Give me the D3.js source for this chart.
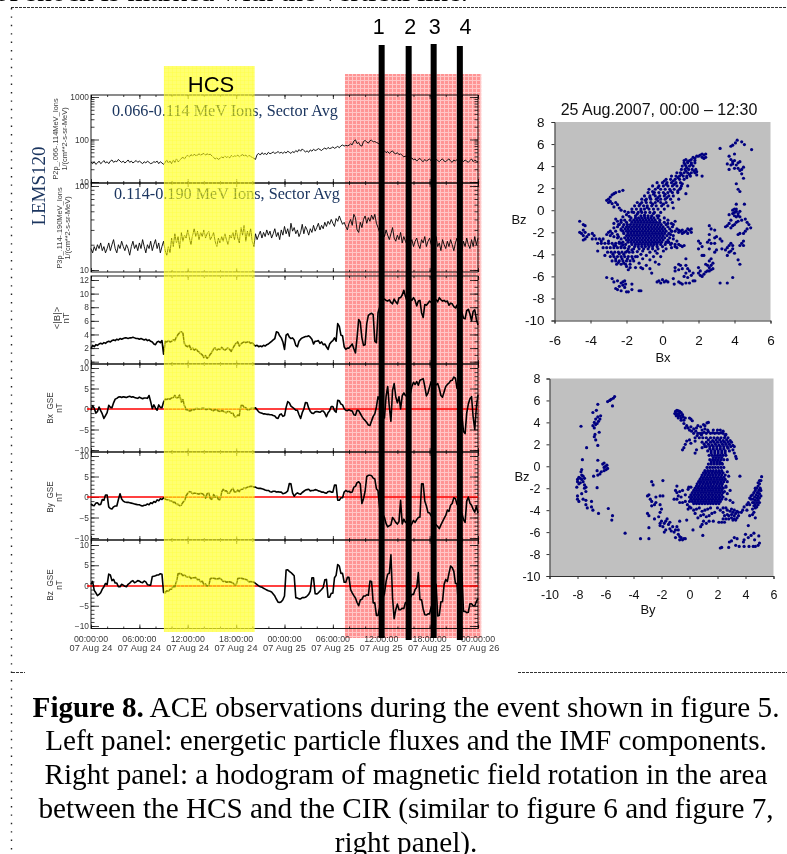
<!DOCTYPE html>
<html><head><meta charset="utf-8">
<style>html,body{margin:0;padding:0;background:#fff}svg{display:block}</style>
<script src="https://cdnjs.cloudflare.com/ajax/libs/d3/7.8.5/d3.min.js"></script>
</head><body><svg id="c" width="787" height="854"></svg>
<script>
// time series: one value every 0.2 h, 00:00 on 24 Aug to 00:00 on 26 Aug
const fluxLow=[29,27,30,26,28,31,27,29,32,28,
30,27,31,33,29,31,30,34,31,29,
31,28,30,33,29,31,28,30,32,29,
31,29,27,30,28,31,29,27,28,30,
29,31,27,30,28,26,29,33,28,31,
27,33,29,35,30,32,36,38,35,40,
42,39,44,41,45,42,43,46,43,45,
47,43,46,44,45,41,38,35,37,34,
36,39,37,41,38,40,37,42,39,41,
40,43,39,42,44,41,43,39,42,40,
38,36,34,44,47,43,49,45,47,44,
50,46,48,51,47,49,52,48,50,47,
51,48,53,50,47,52,49,55,51,58,
53,60,55,51,54,50,57,53,59,55,
57,61,58,55,60,63,59,65,61,63,
67,62,65,69,64,71,74,70,73,71,
73,79,75,92,98,80,85,72,70,90,
95,88,82,94,96,88,90,85,82,76,
52,50,54,49,52,47,51,54,48,46,
49,44,46,42,39,41,36,38,35,37,
33,35,31,34,36,32,30,34,31,33,
35,31,33,29,34,32,30,33,35,31,
30,33,35,31,29,33,31,34,30,32,
34,30,33,31,29,32,35,30,33,31,30];
const fluxHigh=[18,16,19,17,20,18,21,17,19,16,
18,21,17,20,23,18,16,20,18,22,
19,17,20,18,15,19,22,18,20,17,
21,18,23,19,16,20,18,22,17,20,
23,18,21,16,19,22,17,15,19,16,
24,19,27,21,25,18,28,22,26,24,
30,24,20,26,31,25,29,23,28,25,
30,24,27,29,23,25,28,22,19,24,
21,25,22,27,23,20,26,24,28,23,
30,24,21,32,26,34,22,29,25,31,
22,19,27,23,26,29,24,28,25,30,
26,29,24,27,31,25,28,23,30,26,
33,27,31,25,36,29,32,27,30,25,
28,35,27,33,30,26,31,28,34,29,
32,36,30,34,31,37,33,38,35,40,
36,33,41,38,44,39,35,37,33,30,
36,40,34,46,42,30,28,37,32,40,
44,36,42,38,45,40,46,36,32,28,
24,28,25,30,26,23,27,32,24,22,
26,23,28,21,25,22,20,24,21,23,
19,22,24,20,18,23,21,25,19,22,
24,20,18,22,25,19,21,17,23,20,
18,22,19,23,20,17,21,24,18,20,
17,22,19,24,20,18,23,19,25,20,24];
const bMag=[1.9,2.4,2.2,2.5,2.4,2.6,2.7,2.6,2.8,2.7,
2.9,3.0,2.9,3.1,3.2,3.1,3.3,3.2,3.4,3.3,
3.4,3.5,3.5,3.4,3.5,3.5,3.6,3.5,3.4,3.4,
3.3,3.4,3.3,3.2,3.3,3.1,3.2,3.0,2.9,2.6,
2.5,2.9,3.0,2.8,3.1,1.1,3.0,2.9,3.1,2.9,
3.0,3.2,3.1,3.6,4.0,4.3,4.4,4.2,2.6,2.3,
2.2,2.4,1.8,2.0,1.7,1.9,1.6,1.4,1.2,1.0,
0.6,0.9,0.5,0.7,1.1,1.4,1.9,2.0,1.7,1.9,
1.8,2.1,1.9,1.7,1.9,2.0,1.8,1.5,2.0,2.4,
2.7,2.9,2.3,2.6,2.8,2.9,2.8,2.9,2.9,2.7,
2.8,2.5,2.3,2.4,2.2,2.3,2.2,2.4,2.3,2.5,
2.6,2.8,3.0,3.2,3.4,4.4,4.3,3.8,3.5,2.9,
1.8,3.9,4.1,3.6,3.4,3.5,3.2,2.4,2.2,3.0,
3.3,3.5,3.6,3.7,3.7,3.8,3.6,3.3,2.6,3.0,
3.0,3.1,2.7,2.9,2.5,2.6,2.2,1.8,2.6,2.9,
3.1,3.5,3.0,5.6,5.2,3.9,3.8,2.2,1.8,2.0,
2.0,2.3,2.6,1.9,1.3,3.5,6.2,5.8,3.5,2.4,
2.5,5.6,6.8,7.0,7.1,6.9,3.0,2.8,7.2,8.0,
9.3,9.1,9.2,9.0,8.9,9.1,8.7,8.5,9.2,8.8,
8.5,9.4,9.4,9.8,10.5,9.6,8.9,9.3,9.3,9.0,
9.4,9.0,8.2,8.9,9.0,7.2,6.5,8.4,8.3,8.6,
8.9,8.7,8.8,9.0,9.1,8.8,9.4,9.1,8.9,9.0,
8.8,8.9,8.3,8.6,8.5,8.1,7.9,8.3,6.6,7.7,
7.2,6.4,6.3,7.5,7.7,7.0,6.0,7.4,7.6,6.2,5.4];
const bxGse=[-0.3,0.8,0.2,-1.0,-0.6,0.5,-0.4,-1.2,-2.3,-1.6,
-0.9,0.9,0.4,0.3,1.5,2.4,2.6,2.9,3.0,2.8,
3.0,2.9,2.8,3.0,3.1,2.9,3.0,2.8,2.7,2.6,
2.9,2.7,2.5,2.7,2.7,2.6,3.3,1.8,0.1,1.0,
0.2,-0.3,1.0,0.4,0.3,1.7,2.4,2.3,2.5,2.4,
2.7,2.8,3.3,2.7,2.8,3.4,1.7,2.3,0.8,-0.2,
-0.2,-0.5,-0.4,-0.1,-0.2,0.1,0.1,0.0,0.0,0.2,
0.2,-0.1,-0.1,0.1,0.0,-0.3,-0.4,-0.1,-0.2,-0.5,
-0.6,-0.4,-0.5,-0.8,-0.9,-0.6,-0.7,-1.0,-1.0,-1.9,
-1.9,-1.5,-1.6,0.9,0.9,0.4,0.3,-0.2,-0.2,0.1,
0.2,0.1,0.3,-0.2,-0.7,-0.9,-1.0,-1.2,-1.2,-1.3,
-1.3,-1.4,-1.4,-1.6,-1.7,-2.2,-2.3,-1.4,-1.2,-1.8,
-1.6,0.4,1.8,1.5,0.7,0.4,0.1,-0.3,-0.3,-1.4,
-2.3,-0.9,0.0,1.6,1.5,0.2,-0.6,-1.0,-1.1,-0.7,
-0.6,-0.7,-0.8,-0.5,-0.5,-1.0,-1.9,-0.9,-0.4,0.6,
0.6,-0.4,-0.8,2.1,2.0,1.2,1.0,0.1,-0.3,-0.4,
-0.2,-0.4,-0.5,-1.4,-1.5,-0.3,-0.4,-1.1,-1.8,-2.4,
-2.8,-3.3,-3.9,-4.0,-2.9,-1.8,-1.2,0.5,3.0,2.2,
3.0,-2.2,-2.2,3.1,5.5,0.5,-3.0,4.5,6.2,3.0,
1.5,3.0,0.0,3.2,3.9,3.3,3.0,4.2,3.7,5.5,
6.5,6.0,6.7,5.8,7.0,7.2,7.4,5.5,3.2,3.9,
5.4,6.7,7.0,6.3,5.9,6.2,5.0,3.3,2.9,4.2,
5.5,6.0,6.3,6.9,7.0,7.8,7.5,5.0,5.0,1.0,
-1.5,-5.5,-6.0,-1.0,1.2,2.5,3.0,-2.0,-5.0,0.5,3.5];
const byGse=[-1.7,-2.0,-2.1,-1.5,-1.4,-1.9,-1.8,-0.6,-0.8,0.5,
0.5,-2.4,-2.8,-2.9,-2.4,-2.2,-2.2,-0.6,0.8,-0.5,
-1.0,-1.2,-1.3,-1.3,-1.4,-1.5,-1.6,-1.7,-1.8,-1.9,
-1.9,-2.1,-2.2,-2.0,-2.0,-1.7,-1.9,-1.4,-1.6,-1.1,
-1.3,-0.7,-0.9,-0.4,-0.6,-0.2,-0.5,-0.7,-0.7,-0.9,
-0.9,-1.3,-1.3,-1.8,-1.8,-2.1,-2.0,-1.3,-0.9,0.3,
0.9,1.3,1.2,0.8,1.0,0.9,0.8,0.7,0.9,0.8,
0.5,-0.3,0.8,1.0,-0.4,-0.6,0.6,0.0,0.2,-0.6,
-0.7,1.2,1.9,1.5,1.5,0.9,1.0,1.7,2.1,1.2,
1.2,1.7,1.3,1.9,1.9,2.2,2.1,2.4,2.5,2.6,
2.6,2.4,2.4,2.2,2.1,2.1,2.0,1.9,1.7,1.6,
1.6,1.3,1.2,1.4,1.4,1.2,1.3,1.2,1.2,0.8,
0.9,1.1,1.5,3.3,3.2,1.0,0.2,0.7,1.0,0.8,
0.7,1.1,1.4,1.7,1.8,1.9,1.5,1.6,1.6,1.8,
1.7,1.5,1.4,1.2,1.2,1.0,0.9,1.3,1.4,1.2,
1.2,2.9,2.9,-0.8,-0.8,-0.2,-0.2,1.2,1.6,1.3,
1.4,1.1,1.2,2.4,2.6,3.5,3.7,3.2,-1.6,-0.4,
1.4,5.0,5.3,5.3,5.2,4.6,4.4,2.0,1.5,-2.8,
-2.8,-4.2,-5.0,-6.5,-7.3,-7.0,-6.8,-5.0,-5.5,-6.2,
-6.6,-6.0,-0.8,-6.6,-5.4,-6.2,-5.9,-7.0,-7.2,-6.5,
-5.7,-6.2,-5.5,-5.0,-4.9,3.2,3.2,-1.0,-2.2,-3.8,
-3.9,-4.6,-5.4,-6.3,-6.8,-7.2,-7.7,-6.8,-6.0,-5.2,
-4.5,-3.2,-3.5,-2.0,-1.6,-0.2,-0.4,-1.8,-2.4,-3.5,
-4.0,-5.5,-6.2,-1.0,0.0,-1.5,-2.0,-3.0,-3.7,-2.2,-3.9];
const bzGse=[0.3,1.0,-1.2,-1.8,-2.5,-2.2,-1.8,-0.9,-0.3,0.5,
0.2,2.8,2.6,1.2,1.5,0.6,0.6,-0.3,-0.3,0.3,
0.1,-0.2,-0.3,0.3,0.6,1.0,1.2,0.7,0.9,1.2,
1.1,0.8,0.7,1.1,0.9,0.2,0.1,0.1,2.2,2.3,
2.4,2.6,2.6,2.9,2.8,-1.7,-1.8,-1.3,-1.4,-0.9,
-0.9,-0.2,-0.3,1.0,2.9,3.0,2.9,2.4,2.6,2.2,
2.1,2.2,1.7,1.9,1.9,2.0,1.4,1.5,0.9,1.1,
0.2,0.4,-0.1,0.0,1.7,1.8,1.8,1.7,1.6,1.7,
1.8,1.4,1.0,1.1,0.8,0.9,0.9,0.8,0.6,0.2,
0.1,1.7,1.8,1.8,1.7,1.6,1.5,1.3,0.9,1.0,
0.9,0.8,0.5,0.2,-0.1,-0.3,-0.4,-0.7,-0.9,-1.1,
-1.3,-1.4,-1.6,-2.1,-2.6,-3.4,-4.1,-4.2,-4.0,-3.5,
-2.6,3.8,3.9,3.5,3.2,2.8,2.4,-3.0,-3.1,-3.3,
-3.3,-3.0,-3.0,-2.9,-2.6,-2.2,-1.4,1.9,1.9,-2.0,
-2.1,-1.8,-1.4,-1.0,-0.5,1.4,1.5,-2.9,-2.9,-1.9,
-1.9,1.9,2.5,5.2,4.8,3.0,3.0,0.8,0.8,2.0,
2.0,-1.0,-1.8,-2.5,-3.1,-4.2,-5.0,-3.6,-3.4,-2.6,
-2.6,-2.3,-2.4,1.1,1.0,-4.3,-4.3,-7.4,-7.4,-5.5,
-5.0,-3.0,-2.0,1.0,2.8,3.0,7.6,-3.0,-8.2,-6.0,
-4.6,-6.0,-6.0,-5.6,-5.7,-4.2,-4.2,-3.0,-3.0,-2.2,
-2.2,-1.0,-0.5,3.2,-3.5,-3.5,-5.8,-7.2,-7.3,-7.0,
-7.0,-5.2,-5.2,-1.0,0.3,-7.5,-7.4,-4.0,-4.0,0.3,
1.5,1.0,3.0,4.8,4.4,3.5,0.5,0.5,-6.0,3.0,
3.0,-6.4,-6.4,-6.7,-6.6,-4.5,-4.5,-5.0,-5.0,-4.0,-3.2];
const stepHours=0.2;
const timeTickHours=[0,6,12,18,24,30,36,42,48];
const timeTickTimes=["00:00:00","06:00:00","12:00:00","18:00:00","00:00:00","06:00:00","12:00:00","18:00:00","00:00:00"];
const timeTickDates=["07 Aug 24","07 Aug 24","07 Aug 24","07 Aug 24","07 Aug 25","07 Aug 25","07 Aug 25","07 Aug 25","07 Aug 26"];
const hcsHours=[9.04,20.3];
const cirHours=[31.5,48.4];
const shockHours=[36.05,39.4,42.5,45.75];
const shockLabels=["1","2","3","4"];

// Bx-Bz hodogram: dense parts as rows [Bz,[Bx...]], the rest as pairs
const hodoXZCore=[
[-0.5,[-1.5,-1.2,-1.0,-0.8,-0.6,-0.3]],
[-0.7,[-1.75,-1.5,-1.33,-1.16,-0.99,-0.82,-0.65,-0.48,-0.25]],
[-0.9,[-2.1,-1.8,-1.6,-1.43,-1.26,-1.09,-0.92,-0.75,-0.58,-0.41,-0.15]],
[-1.1,[-2.3,-2.0,-1.7,-1.52,-1.35,-1.18,-1.01,-0.84,-0.67,-0.5,-0.33,-0.16,0.1]],
[-1.3,[-2.45,-2.15,-1.95,-1.78,-1.6,-1.43,-1.26,-1.09,-0.92,-0.75,-0.58,-0.41,-0.24,-0.07,0.2]],
[-1.5,[-2.5,-2.2,-2.0,-1.84,-1.67,-1.5,-1.33,-1.16,-0.99,-0.82,-0.65,-0.48,-0.31,-0.14,0.03,0.3,0.55]],
[-1.7,[-2.3,-2.08,-1.92,-1.75,-1.58,-1.41,-1.24,-1.07,-0.9,-0.73,-0.56,-0.39,-0.22,-0.05,0.12,0.4]],
[-1.9,[-2.2,-2.0,-1.84,-1.67,-1.5,-1.33,-1.16,-0.99,-0.82,-0.65,-0.48,-0.31,-0.14,0.03,0.2,0.5]],
[-2.1,[-2.15,-1.92,-1.75,-1.58,-1.41,-1.24,-1.07,-0.9,-0.73,-0.56,-0.39,-0.22,-0.05,0.12,0.35]],
[-2.3,[-2.0,-1.84,-1.67,-1.5,-1.33,-1.16,-0.99,-0.82,-0.65,-0.48,-0.31,-0.14,0.03,0.25]],
[-2.5,[-2.1,-1.92,-1.75,-1.58,-1.41,-1.24,-1.07,-0.9,-0.73,-0.56,-0.39,-0.22,-0.05,0.12,0.4]],
[-2.7,[-2.0,-1.84,-1.67,-1.5,-1.33,-1.16,-0.99,-0.82,-0.65,-0.48,-0.31,-0.14,0.03,0.3]],
[-2.9,[-2.2,-1.92,-1.75,-1.58,-1.41,-1.24,-1.07,-0.9,-0.73,-0.56,-0.39,-0.22,-0.05,0.2]],
[-3.1,[-2.05,-1.7,-1.5,-1.33,-1.16,-0.99,-0.82,-0.65,-0.48,-0.31,-0.1,0.15,0.45]],
[-3.3,[-2.3,-1.85,-1.55,-1.35,-1.15,-0.95,-0.75,-0.55,-0.3,0.0]],
[-3.5,[-1.9,-1.6,-1.3,-1.05,-0.8,-0.55,-0.25]],
[-0.2,[-1.9,-1.6,-1.35,-1.15,-0.95,-0.7,-0.45,-0.1]],
[0.1,[-1.7,-1.45,-1.2,-1.0,-0.75,-0.5,-0.25,0.1]],
[0.4,[-1.55,-1.3,-1.05,-0.85,-0.6,-0.35,-0.05,0.3]],
[0.7,[-1.4,-1.15,-0.9,-0.65,-0.4,-0.1,0.2,0.55]],
[1.0,[-1.15,-0.9,-0.65,-0.35,-0.1,0.15,0.45]],
[1.3,[-1.0,-0.7,-0.4,-0.15,0.1,0.35,0.6]],
[1.6,[-0.8,-0.45,-0.2,0.05,0.3,0.55,0.85]],
[1.9,[-0.75,-0.4,-0.1,0.15,0.4,0.65,0.95]],
[2.2,[-0.55,-0.2,0.05,0.3,0.55,0.8,1.05]],
[2.5,[-0.3,0,0.25,0.5,0.75,1.0]],
[2.8,[0.2,0.45,0.7,0.95,1.2]],
[3.1,[0.5,0.75,0.95,1.15,1.35,1.55]],
[3.4,[0.8,1.0,1.2,1.4,1.6,1.8]],
[3.7,[1.05,1.25,1.45,1.65,1.85]],
[4.0,[1.1,1.3,1.5,1.7]],
[4.3,[1.2,1.4,1.6,1.8]],
[-2.6,[-3.9,-3.7,-3.5,-3.3]],
[-3.0,[-3.6,-3.4,-3.2,-3,-2.8,-2.6,-2.4]],
[-3.4,[-3.3,-3.1,-2.9,-2.7,-2.5,-2.3,-2.1]],
[-3.8,[-3.05,-2.85,-2.65,-2.45,-2.25,-2.05,-1.85,-1.65]],
[-4.2,[-2.9,-2.7,-2.5,-2.3,-2.1,-1.9,-1.7,-1.5]],
[-4.6,[-2.8,-2.6,-2.4,-2.2,-2,-1.8,-1.6]],
[-4.9,[-2.55,-2.3,-2.05,-1.8]]];
const hodoXZ=[[2.4,5.1],[2.3,5],[2.4,4.8],[2.2,5.1],[2.1,5],[2,4.9],[1.9,4.9],[2.3,4.7],[2.2,4.8],[1.8,4.7],[1.7,4.8],[1.6,4.6],[1.5,4.5],[1.4,4.4],[1.8,4.5],[1.3,4.6],[1.2,4.5],[1.9,3.5],[1.9,3.2],[2.2,3.1],[1.1,2.4],[1.4,2.2],[1.0,2.0],[1.3,1.5],[0.9,1.0],[0.6,0.2],
[-2.7,-1.6],[-2.6,-1.9],[-2.5,-2.2],[-2.4,-2.9],[-2.6,-3.2],[-2.3,-1.8],[-2.45,-2.4],[-2.3,-3.0],[-2.0,-0.4],[-1.85,-0.55],[-2.2,-0.6],[-1.7,-0.15],[-1.4,-0.35],[-1.0,-0.45],[-0.5,-0.3],[-0.2,-0.5],[0.1,-0.7],[0.3,-0.9],[0.5,-1.2],[0.7,-1.0],[0.45,-2.2],[0.6,-2.6],[0.8,-2.8],[0.35,-2.9],[0.5,-3.4],[0.2,-3.5],[0.05,-3.7],[-0.4,-3.7],[-0.7,-3.8],[-1.1,-3.7],[-1.4,-3.75],[-1.7,-3.6],[-2.1,-3.4],[-1.2,-0.05],[-0.85,0.25],[-0.55,0.55],[-0.25,0.85],[0.05,0.55],[-1.25,0.55],[-0.95,0.9],[-0.7,1.15],[-0.5,1.45],[-0.25,1.15],[0.25,1.15],[0.45,1.75],[0.15,1.45],[-0.55,1.7],[-0.25,2.05],[0.2,2.35],[0.65,2.35],[0.85,1.75],[0.1,2.65],[0.6,2.65],[0.85,2.95],[1.35,2.95],[1.05,3.25],[1.5,3.25],[1.3,3.55],[1.75,3.55],[1.35,3.85],[1.6,4.15],[1.25,4.15],[-3.4,-2.8],[-3.0,-2.8],[-2.7,-3.2],[-2.2,-3.15],[-1.95,-3.7],[-2.75,-4.0],[-2.4,-3.95],[-2.15,-4.0],[-2.6,-4.4],[-2.25,-4.4],[-1.95,-4.4],[-1.65,-4.4],[-2.45,-4.75],[-2.15,-4.8],
[-3,1],[-3.1,0.9],[-2.9,1.2],[-2.8,1.4],[-2.7,1.5],[-2.6,1.6],[-2.4,1.7],[-2.2,1.8],[-2.9,0.8],[-2.8,0.6],[-2.6,0.7],[-2.5,0.5],[-2.7,0.3],[-3,0.7],[-2.4,0.2],[-2.3,0],[-2.1,-0.1],
[-2.6,-0.8],[-2.5,-1],[-2.7,-1.2],[-2.4,-1.3],[-2.3,-0.9],[-2.9,-1.9],[-3,-2],[-2.8,-2.1],[-2.9,-2.3],[-3.1,-2.2],[-2.7,-2.4],[-2.5,-2.5],[-2.3,-2.6],[-4.6,-1],[-4.4,-1.3],[-4.3,-1.4],[-4.6,-2],[-4.5,-2.1],[-4.4,-1.8],[-4.3,-2],[-4.4,-2.3],[-4.2,-2.4],[-4.3,-2.6],[-4.4,-2.7],[-4.1,-2.2],[-3.9,-2.1],[-3.8,-2.3],
[-2,-5.1],[-1.8,-5.2],[-1.9,-5.4],[-1.4,-4.2],[-1.2,-4],[-1.1,-4.4],[-1.3,-4.8],[-1.2,-5.2],[-0.9,-4.1],[-0.7,-4.5],[-0.9,-5],[-0.7,-5.3],[-0.6,-5.7],[-0.4,-4.7],[-0.2,-4.9],[-0.5,-4.2],[-0.3,-3.9],[-0.1,-4.2],[-1.5,-5.2],[-1.1,-5.3],[-3.2,-4.1],[-3.6,-3.7],
[1,-3.2],[1.1,-3.3],[0.9,-3.1],[0.8,-3.4],[0.7,-3.1],[0.5,-3],[0.3,-2.9],[0.7,-3.3],[1.2,-3.2],[0.6,-1.3],[0.8,-1.7],[0.9,-1.8],[1,-1.9],[1.1,-1.8],[1.2,-2],[1.3,-1.9],[1.4,-1.7],[1.5,-1.8],[1.6,-2],[1.6,-1.7],[1.4,-2.1],[1.1,-2.1],[0.9,-2],[0.7,-1.9],[0.5,-1.9],[0.6,-2.3],[0.3,-1.2],
[-3.1,-6.1],[-2.8,-6.2],[-2.7,-6.5],[-2.5,-6.4],[-2.2,-6.5],[-2.1,-6.4],[-2.3,-6.6],[-2.2,-6.8],[-2.05,-6.7],[-1.7,-6.7],[-2.4,-6.9],[-2.1,-7],[-2.5,-7.2],[-2.3,-7.3],[-2,-7.4],[-1.9,-7.4],[-1.7,-7.2],[-1.3,-7.3],[-1.2,-7.3],[-2.6,-7.1],
[-0.3,-6.5],[-0.2,-6.4],[-0.1,-6.6],[0,-6.3],[0.1,-6.5],[0.2,-6.4],[0.3,-6.5],[0.6,-6.2],[0.65,-6.7],[0.9,-6.5],[1,-6.6],[1.1,-6.7],[1.3,-6.6],[1.5,-6.6],[1.7,-6.4],[1.8,-6.4],[1.4,-6.1],[1.2,-6],[1.3,-5.7],[1.5,-5.5],[1.6,-5.9],[1.7,-5.7],[1.4,-5.3],[1.1,-5.3],[0.9,-5.4],[0.7,-5.2],[0.7,-5.5],[0.9,-4.9],[1,-5],[1.3,-5],[1.3,-4.4],[2,-5.7],[2.1,-5.9],[2.2,-6],[2.3,-5.8],[2.1,-5.5],[2,-5.2],[2.4,-5.6],[2.5,-5.5],[2.6,-5.5],[2.7,-5.4],[2.8,-5.3],[2.6,-5.2],[2.5,-5],[2.7,-5],[2.8,-4.8],[2.6,-4.6],[2.7,-4.4],[2.4,-4.9],[2.3,-4.1],[2.2,-4.1],[2,-3.5],[2.2,-3.3],[2.1,-3],[2,-2.8],[2.6,-3.5],[2.7,-3],[2.5,-2.9],[2.6,-2.2],[2.7,-1.7],[2.6,-1.4],[2.6,-2.7],[2.9,-3],[2.9,-2.5],[2.9,-1.8],[3,-2.4],[3.2,-2.6],[3.3,-2.8],[3.3,-3.5],[3.0,-3.6],[2.9,-3.8],[3.5,-3.6],[3.6,-3.4],[3.7,-3.2],[3.8,-3],[3.9,-3.2],[3.7,-3.8],[3.8,-3.7],[3.9,-3.5],[4,-3.9],[3.6,-4.1],[3.2,-6.6],[3.6,-6.6],[3.9,-6.1],[4.2,-4.5],[4.3,-4.9],
[3.5,-1.5],[3.6,-1.4],[3.7,-1.2],[3.8,-1.6],[3.9,-1.4],[4,-1.3],[4.1,-1.1],[3.8,-0.9],[3.7,-0.4],[3.9,-0.3],[4,-0.2],[4.1,-0.1],[4.2,-0.3],[4.3,-0.1],[4.1,0.1],[4,0.1],[3.9,0],[4.2,-0.5],[4.1,-0.6],[4,-0.5],[4.3,-0.6],[4.2,-1],[4.4,-0.9],[4.1,0.55],[4.55,0.55],[4.6,-0.8],[4.7,-1.1],[4.8,-1.3],[4.9,-1.6],[4.7,-1.7],[4.6,-1.9],[4.5,-2.1],[4.3,-2.1],[4.2,-2.2],[4.5,-2.8],[4.4,-3],[4.3,-3.2],[4.5,-3.2],
[3.2,5.6],[3.8,5.8],[3.9,5.9],[4.05,6.1],[4.15,6.35],[4.4,6.2],[4.55,5.95],[4.95,5.5],[3.7,4.9],[3.8,4.6],[3.9,4.4],[4,4.5],[4,5.1],[3.6,4.2],[3.8,4.1],[3.9,4.2],[4.1,4.1],[4.2,4.3],[4.3,4.4],[3.7,3.7],[4,3.8],[4.2,3.8],[4.3,3.6],[4.4,3.7],[4.5,3.9],[4.4,3.3],[4.5,2.9],[4.1,2.4],[4.2,1.9],[4.3,1.7]];

// By-Bz hodogram: dense parts as rows [Bz,[By...]], the rest as pairs
const hodoYZCore=[
[3.0,[0.3,0.6,0.9,1.2,1.5,1.8,2.1,2.4]],
[2.6,[0.4,0.7,0.95,1.2,1.5,1.75,2.0,2.25,2.5,2.75]],
[2.2,[0.9,1.2,1.5,1.75,2.0,2.25,2.5,2.75,3.0]],
[1.8,[1.2,1.45,1.7,1.95,2.2,2.45,2.7,2.95]],
[1.4,[1.3,1.55,1.8,2.05,2.3,2.55,2.85]],
[1.0,[1.4,1.6,1.8,2.0,2.2,2.4,2.6]],
[0.6,[1.45,1.65,1.85,2.05,2.25,2.45]],
[0.2,[1.35,1.55,1.75,1.95,2.15,2.35]],
[-0.1,[1.25,1.45,1.65,1.85,2.05,2.25,2.45]],
[-0.4,[1.1,1.3,1.5,1.7,1.9,2.1,2.3]],
[-0.6,[1.0,1.2,1.4,1.6,1.8,2.0,2.2,2.4]],
[-0.8,[0.9,1.1,1.3,1.5,1.7,1.9,2.1,2.3,2.55]],
[-1.0,[0.85,1.05,1.25,1.45,1.65,1.85,2.05,2.25,2.45]],
[-1.2,[0.75,0.95,1.15,1.35,1.55,1.75,1.95,2.15,2.35,2.55]],
[-1.4,[0.65,0.85,1.05,1.25,1.45,1.65,1.85,2.05,2.25,2.45]],
[-1.6,[0.55,0.75,0.95,1.15,1.35,1.55,1.75,1.95,2.15,2.35]],
[-1.8,[0.5,0.7,0.9,1.1,1.3,1.5,1.7,1.9,2.1,2.3,2.6]],
[-2.0,[0.4,0.6,0.8,1.0,1.2,1.4,1.6,1.8,2.0,2.2,2.4]],
[-2.2,[0.3,0.5,0.7,0.9,1.1,1.3,1.5,1.7,1.9,2.1,2.3]],
[-2.4,[0.2,0.4,0.6,0.8,1.0,1.2,1.4,1.6,1.8,2.0,2.2,2.4]],
[-2.6,[0.1,0.3,0.5,0.7,0.9,1.1,1.3,1.5,1.7,1.9,2.1,2.3]],
[-2.8,[0,0.2,0.4,0.6,0.8,1.0,1.2,1.4,1.6,1.8,2.0,2.2,2.4]],
[-3.0,[0.1,0.3,0.5,0.7,0.9,1.1,1.3,1.5,1.7,1.9,2.1,2.3]],
[-3.2,[0.0,0.2,0.4,0.6,0.8,1.0,1.2,1.4,1.6,1.8,2.0,2.2]],
[-3.4,[0.3,0.5,0.7,0.9,1.1,1.3,1.5,1.7,1.9,2.1]]];
const hodoYZ=[[-1,5],[-0.9,5.1],[-0.8,5.05],[-0.7,5],[-1.05,4.8],[-0.9,4.8],[-0.75,4.8],[-0.6,4.9],[-0.95,4.6],[-0.8,4.6],[-0.65,4.6],[-0.5,4.7],[-0.8,4.4],[-0.6,4.4],[-0.45,4.5],[-0.6,4.2],[-0.4,4.2],[-0.3,4.4],[0,4.4],[0.1,4.3],[0.2,4.15],[-0.4,3.9],[-0.2,3.7],[-0.3,3.5],[-0.1,3.5],[0,3.3],[0.1,3.6],[0.3,3.4],[0.5,3.5],[0.6,3.7],[0.8,3.6],[1,3.8],[1.1,3.7],[1.25,3.95],[1.35,4],[0.9,3.3],[1.1,3.4],[1.3,3.3],[1.7,3.3],[2,3.3],[2.2,3.3],[2.4,3.2],[0,2.4],[-0.2,2.3],[-0.3,2],[-0.4,1.7],[-0.5,1.5],[0.1,2.1],[0.4,2.3],[2.6,2.9],[3.1,1.9],[3.2,1.8],[3.1,1.5],[3.2,1.2],[3.3,0.9],[3.35,0.7],[0.4,1.2],[0.5,1.5],[0.9,1.7],[1.1,1.8],[2.7,0.6],[2.7,-0.5],[3.6,-0.9],
[0.15,3.2],[0.45,3.2],[0.75,3.0],[1.05,3.1],[1.35,3.15],[1.65,3.05],[1.95,3.05],[2.25,3.05],[2.55,2.8],[0.55,2.8],[0.85,2.85],[1.35,2.4],[1.65,2.35],[1.9,2.4],[2.15,2.4],[2.4,2.35],[2.65,2.4],[2.9,2.35],[1.05,2.0],[1.35,2.0],[1.6,1.95],[1.85,2.0],[2.1,1.95],[2.35,2.0],[2.6,2.0],[2.85,2.0],[1.45,1.6],[1.7,1.6],[1.95,1.6],[2.2,1.6],[2.45,1.6],[2.75,1.65],[1.55,1.2],[1.8,1.2],[2.05,1.2],[2.3,1.2],[2.55,1.2],[1.7,0.8],[1.9,0.8],[2.1,0.8],[2.3,0.8],[1.55,0.4],[1.75,0.4],[1.95,0.4],[2.15,0.4],[2.3,0.3],
[2.8,-0.9],[2.7,-1.4],[2.6,-1.9],[2.9,-2.2],[2.5,-2.3],[2.7,-2.5],[2.6,-3],[2.9,-3.1],[3.1,-3.3],
[-0.9,-1.8],[-1,-2.2],[-0.9,-2.4],[-0.7,-2.3],[-0.5,-2.2],[-0.3,-2.6],[-0.1,-2.1],[-0.05,-1.9],[0.1,-1.9],[-0.8,-2.7],[-0.6,-2.8],[-1.1,-3],[-0.9,-3],[-0.7,-3.3],[-0.5,-3.3],[-0.3,-3.2],[-0.15,-3.5],[0,-3.7],[-0.1,-3.9],[0.1,-3.8],[0.3,-4],[0.5,-3.9],[0.7,-3.8],[0.9,-4.1],[1.1,-4],[1.3,-3.9],[1.5,-3.8],[0.4,-4.3],[0.8,-4.5],[1,-4.4],[1.2,-4.6],[1.4,-4.5],[1.6,-4.3],[1.8,-4.2],[0.6,-4.7],[1.0,-5],[0.9,-5.3],[0.8,-5.5],[1.2,-5.2],[1.4,-5],[1.7,-5],[0.25,-5.8],[0.95,-6.3],
[2,-3.8],[2.2,-4],[2.4,-3.8],[2.4,-4.2],[2.6,-3.8],[2.7,-4],[2.9,-4.1],[3,-3.9],[3.1,-4.2],[3.2,-4],[2.5,-4.5],[2.7,-4.4],[2.8,-4.5],[3,-4.4],[3.2,-4.5],[3.3,-4.3],[3.4,-4.1],[2.4,-4.8],[2.6,-4.8],[2.8,-4.8],[3,-4.7],[3.2,-4.8],[3.4,-4.7],[3.5,-4.5],[2.1,-5.1],[2.3,-5.1],[2.5,-5.1],[3.1,-4.9],[3.3,-4.9],[3.5,-4.2],[3.7,-4.2],[3.8,-4],[3.9,-3.7],[4.1,-3.5],[4.2,-3.3],[4.3,-3.5],[4.4,-3],[4.3,-2.9],[4.1,-4],[4.3,-4.5],[4.5,-4.4],[4.6,-4.2],[4.7,-3.8],[4.5,-3.9],[4.7,-4.7],[4.2,-5.4],
[4.5,-2.6],[4.6,-2.4],[4.7,-2.2],[4.8,-2],[4.9,-1.8],[5,-1.6],[5.1,-1.3],[5.15,-0.95],[4.55,-3],[4.65,-2.8],[4.75,-2.6],[4.85,-2.4],[4.95,-2.2],[5.05,-2],[5,-1.3],[4.9,-1.5],[4.6,-3.3],[4.7,-3.1],[4.8,-2.9],[4.9,-2.7],[5,-2.5],[5.1,-2.2],[4.7,-3.5],[4.8,-3.3],[4.9,-3.1],[5,-2.9],[5.1,-2.7],[4.8,-3.7],[4.9,-3.5],[5,-3.3],[4.4,-2.7],[4.5,-3.3],[4.6,-3.6],[4.7,-2],
[2.3,-7.4],[2.2,-7.45],[2.8,-7.4],[2.85,-6.9],[3,-6.8],[3.2,-6.5],[3.4,-6.6],[3.3,-7.2],[3.55,-7.3],[3.9,-7.3],[3.85,-6.9],[3.9,-6.7],[4,-6.2],[4.2,-6.5],[4.4,-6.3],[4.6,-6.1],[4.25,-7.3],[4.55,-7.3],[4.7,-7.3],[4.65,-6.7],[4.9,-7.2],[5,-7],[4.95,-6.35],
[-2.9,-2.6],[-3,-2.7],[-2.8,-3],[-2.7,-1.4],[-2.6,-1.7],[-1.9,-1.3],[-2.7,-3.2],[-2.4,-2.8],[-2.1,-2.7],[-1.9,-2.7],[-2.1,-3.5],[-2.4,-3.3],[-2.5,-3.5],[-2.7,-3.6],[-3,-4.3],[-2.9,-4.5],[-2.5,-4.8],[-2.9,-5.6],[-2.1,-4.2],[-2,-3.9],[-2.2,-4.6],[-2.1,-5.2],[-2.1,-5.4],[-2,-5],[-1.9,-5.5],[-1.8,-5.2],[-1.7,-5],[-1.6,-4.8],[-1.5,-5.3],[-1.4,-5.1],[-1.4,-5.7],[-1.7,-5.8],[-1.8,-6],[-1.3,-5.9],[-1.2,-5.5],[-1.1,-6],[-1,-5.8],[-0.9,-5.5],[-0.8,-5.8],[-1,-6.5],[-0.8,-6.2],[-0.7,-6.4],[-0.6,-6.5],[-0.5,-6.7],[-0.4,-6.6],[-0.7,-6.7],[-0.3,-6.6],[-0.7,-5],[-0.2,-4.9],[-3.5,-6.6],[-2.9,-6.6],[-4.6,-6.1],
[-8.05,-1.9],[-8,-1.4],[-8,-1.2],[-7.9,-1.6],[-7.8,-1.1],[-7.7,-0.8],[-7.75,-0.5],[-7.7,-0.3],[-7.6,-0.9],[-7.5,-1.1],[-7.6,-1.4],[-7.8,-1.5],[-7.5,-1.7],[-7.4,-1.9],[-7.5,-2],[-7.4,-2.3],[-7.7,-2.5],[-8,-2.7],[-8,-3],[-7.9,-3.2],[-7.6,-3],[-7.4,-3.1],[-7.4,-3.5],[-7.3,-3.8],[-7,-3.2],[-7,-3.7],[-6.9,-4],[-7.65,0.6],[-7.7,-1.2],[-7.9,-1],
[-6.1,-0.1],[-6,0],[-5.9,0.1],[-6.2,0.2],[-6.1,0.3],[-5.95,-0.3],[-5.85,-0.2],[-6.1,-0.4],[-6.3,-0.5],[-6.4,-0.7],[-6.55,-0.8],[-6.85,-0.9],[-6.6,-0.4],[-6.55,0.55],[-6.6,-1.95],[-6.5,-4.3],[-5.8,-3.85],[-5.5,-4.5],[-5.55,-4.9],
[-6.9,3.7],[-6.8,3.5],[-6.7,3.8],[-6.6,3.9],[-6.5,4.1],[-6.4,4.3],[-6.35,4.6],[-6.55,4.5],[-6.7,4.3],[-6.8,4],[-6.9,4.9],[-6.65,5.1],[-6.55,5.65],[-6.75,2.9],[-6.8,2.7],[-6.7,2.4],[-6.45,3.1],[-6.55,1.9],[-7.35,1.7],[-7.75,3.65],[-5.85,5.9],[-5.7,6],[-5.6,6.1],[-5.5,5.5],[-5.45,6.2],[-5.35,6.35]];

const svg=d3.select("#c");
const sans="'Liberation Sans',Arial,sans-serif", serif="'Liberation Serif','Times New Roman',serif";
const x=d3.scaleLinear().domain([0,48]).range([91,478]);
const defs=svg.append("defs");
function pat(id,base,light){
  const p=defs.append("pattern").attr("id",id).attr("patternUnits","userSpaceOnUse").attr("width",4).attr("height",4);
  p.append("rect").attr("width",4).attr("height",4).attr("fill",base);
  p.append("rect").attr("width",4).attr("height",1).attr("fill",light);
  p.append("rect").attr("width",1).attr("height",4).attr("fill",light);
}
pat("py","rgba(255,255,0,0.56)","rgba(255,255,60,0.36)");
pat("pr","rgb(255,148,148)","rgb(255,198,198)");

const frameCol="#333";
svg.append("line").attr("x1",11).attr("x2",787).attr("y1",7.5).attr("y2",7.5).attr("stroke",frameCol).attr("stroke-dasharray","3 1");
svg.append("line").attr("x1",11.5).attr("x2",11.5).attr("y1",8).attr("y2",854).attr("stroke","#222").attr("stroke-width",1.4).attr("stroke-dasharray","1.4 7");
svg.append("line").attr("x1",12).attr("x2",25).attr("y1",672.5).attr("y2",672.5).attr("stroke",frameCol).attr("stroke-dasharray","3 1");
svg.append("line").attr("x1",518).attr("x2",787).attr("y1",672.5).attr("y2",672.5).attr("stroke",frameCol).attr("stroke-dasharray","3 1");
svg.append("text").attr("x",468).attr("y",1).attr("text-anchor","end").attr("font-family",serif).attr("font-size",29).attr("fill","#000").text("of shock is marked with the vertical line.");

const minors=(a,b,s)=>d3.range(a,b+s/2,s);
const logMinor=(lo,hi)=>{const o=[];for(let d=lo;d<hi;d*=10)for(let m=1;m<10;m++)o.push(d*m);o.push(hi);return o;};
const panels=[
 {v:fluxLow,sw:.9,top:95,bot:183,y:d3.scaleLog().domain([10,1000]).range([182,97]),major:[10,100,1000],minor:logMinor(10,1000),t:["P2p_.066-.114MeV_Ions","1/(cm**2-s-sr-MeV)"],tx:[58,67],ty:139,fs:7.4},
 {v:fluxHigh,sw:.9,top:183,bot:272,y:d3.scaleLog().domain([10,100]).range([270,186]),major:[10,100],minor:logMinor(10,100),t:["P3p_.114-.190MeV_Ions","1/(cm**2-s-sr-MeV)"],tx:[62,70],ty:228,fs:7.4},
 {v:bMag,sw:1.6,top:276,bot:364,y:d3.scaleLinear().domain([0,12]).range([361.7,280]),major:[0,2,4,6,8,10,12],minor:minors(0,12,1),t:["<|B|>","nT"],tx:[60,69],ty:318,fs:9.5},
 {v:bxGse,sw:1.6,top:364,bot:452,y:d3.scaleLinear().domain([-10,10]).range([450,368]),major:[-10,-5,0,5,10],minor:minors(-10,10,1),t:["Bx  GSE","nT"],tx:[53,62],ty:408,fs:8.2,zero:true},
 {v:byGse,sw:1.6,top:452,bot:540,y:d3.scaleLinear().domain([-10,10]).range([538,456]),major:[-10,-5,0,5,10],minor:minors(-10,10,1),t:["By  GSE","nT"],tx:[53,62],ty:497,fs:8.2,zero:true},
 {v:bzGse,sw:1.6,top:540,bot:628.5,y:d3.scaleLinear().domain([-10,10]).range([626,545]),major:[-10,-5,0,5,10],minor:minors(-10,10,1),t:["Bz  GSE","nT"],tx:[53,62],ty:585,fs:8.2,zero:true}
];
const tMinor=d3.range(0,48.1,2);
const axisCol="#111", labelCol="#3a3a3a";
function styleAxis(g){g.select(".domain").remove();g.selectAll("line").attr("stroke",axisCol).attr("stroke-width",.8);g.selectAll("text").attr("font-family",sans).attr("font-size",8.4).attr("fill",labelCol);}
panels.forEach(p=>{
  const g=svg.append("g");
  const al=g.append("g").attr("transform","translate(91,0)");
  al.append("g").call(d3.axisLeft(p.y).tickValues(p.minor).tickSize(-3.5).tickFormat("")).call(styleAxis);
  al.append("g").call(d3.axisLeft(p.y).tickValues(p.major).tickSize(-8).tickPadding(2).tickFormat(d3.format("d"))).call(styleAxis);
  const ar=g.append("g").attr("transform","translate(478,0)");
  ar.append("g").call(d3.axisRight(p.y).tickValues(p.minor).tickSize(-3.5).tickFormat("")).call(styleAxis);
  ar.append("g").call(d3.axisRight(p.y).tickValues(p.major).tickSize(-8).tickFormat("")).call(styleAxis);
  [[p.top,d3.axisTop],[p.bot,d3.axisBottom]].forEach(([yy,ax])=>{
    const a=g.append("g").attr("transform",`translate(0,${yy})`);
    a.append("g").call(ax(x).tickValues(tMinor).tickSize(-2).tickFormat("")).call(styleAxis);
    a.append("g").call(ax(x).tickValues(timeTickHours).tickSize(-4).tickFormat("")).call(styleAxis);
  });
  g.append("rect").attr("x",91).attr("y",p.top).attr("width",387).attr("height",p.bot-p.top).attr("fill","none").attr("stroke","#000").attr("stroke-width",.9);
  if(p.zero) g.append("line").attr("x1",87).attr("x2",478).attr("y1",Math.round(p.y(0))).attr("y2",Math.round(p.y(0))).attr("stroke","#f00").attr("stroke-width",1.5);
  const line=d3.line().x((d,i)=>x(i*stepHours)).y(d=>p.y(d));
  g.append("path").datum(p.v).attr("d",line).attr("fill","none").attr("stroke","#000").attr("stroke-width",p.sw).attr("stroke-linejoin","round");
  p.t.forEach((s,i)=>{
    g.append("text").attr("transform",`translate(${p.tx[i]},${p.ty}) rotate(-90)`).attr("text-anchor","middle").style("white-space","pre")
     .attr("font-family",sans).attr("font-size",p.fs).attr("fill",labelCol).text(s);
  });
});
timeTickHours.forEach((h,i)=>{
  svg.append("text").attr("x",x(h)).attr("y",642).attr("text-anchor","middle").attr("font-family",sans).attr("font-size",8.8).attr("fill",labelCol).text(timeTickTimes[i]);
  svg.append("text").attr("x",x(h)).attr("y",651).attr("text-anchor","middle").attr("font-family",sans).attr("font-size",9.2).attr("letter-spacing",.2).attr("fill",labelCol).text(timeTickDates[i]);
});
const blue="#1c3660";
svg.append("text").attr("x",112).attr("y",116).attr("font-family",serif).attr("font-size",16.2).attr("fill",blue).text("0.066-0.114 MeV Ions, Sector Avg");
svg.append("text").attr("x",114).attr("y",199).attr("font-family",serif).attr("font-size",16.2).attr("fill",blue).text("0.114-0.190 MeV Ions, Sector Avg");
svg.append("text").attr("transform","translate(45,186) rotate(-90)").attr("text-anchor","middle").attr("font-family",serif).attr("font-size",19).attr("fill",blue).text("LEMS120");

svg.append("rect").attr("x",x(hcsHours[0])).attr("y",66).attr("width",x(hcsHours[1])-x(hcsHours[0])).attr("height",566).attr("fill","url(#py)");
svg.append("rect").attr("x",x(cirHours[0])).attr("y",74).attr("width",x(cirHours[1])-x(cirHours[0])).attr("height",564).attr("fill","url(#pr)").style("mix-blend-mode","multiply");
svg.append("text").attr("x",211).attr("y",92).attr("text-anchor","middle").attr("font-family",sans).attr("font-size",22).attr("fill","#000").text("HCS");
const barTop=[45,46,44,46], barBot=[638,640,638,640], labelShift=[-3,1.5,1,5.5];
shockHours.forEach((h,i)=>{
  svg.append("rect").attr("x",x(h)-3).attr("y",barTop[i]).attr("width",6).attr("height",barBot[i]-barTop[i]).attr("fill","#000");
  svg.append("text").attr("x",x(h)+labelShift[i]).attr("y",34).attr("text-anchor","middle").attr("font-family",sans).attr("font-size",21.5).attr("fill","#000").text(shockLabels[i]);
});

function hodo(core,pts,box,xd,xt,yt,xl,yl,lx,ly,fs,padX,padY){
  const sx=d3.scaleLinear().domain(xd).range([box.x0,box.x1]);
  const sy=d3.scaleLinear().domain([-10,8]).range([box.y1,box.y0]);
  const g=svg.append("g");
  g.append("rect").attr("x",box.x0).attr("y",box.y0).attr("width",box.x1-box.x0).attr("height",box.y1-box.y0).attr("fill","#c0c0c0");
  const ax=g.append("g").attr("transform",`translate(0,${box.y1})`).call(d3.axisBottom(sx).tickValues(xt).tickSize(3).tickPadding(padX).tickFormat(d=>String(d)));
  const ay=g.append("g").attr("transform",`translate(${box.x0},0)`).call(d3.axisLeft(sy).tickValues(yt).tickSize(3).tickPadding(padY).tickFormat(d=>String(d)));
  [ax,ay].forEach(a=>{a.selectAll("text").attr("font-family",sans).attr("font-size",fs).attr("fill","#111");a.selectAll("line,path").attr("stroke","#333");});
  const all=pts.concat(core.flatMap(([z,xs])=>xs.map(v=>[v,z])));
  g.selectAll("circle").data(all).join("circle").attr("cx",d=>sx(d[0])).attr("cy",d=>sy(d[1])).attr("r",1.6).attr("fill","#000080");
  g.append("text").attr("x",lx[0]).attr("y",lx[1]).attr("text-anchor","middle").attr("font-family",sans).attr("font-size",13).attr("fill","#111").text(xl);
  g.append("text").attr("x",ly[0]).attr("y",ly[1]).attr("text-anchor","middle").attr("font-family",sans).attr("font-size",13).attr("fill","#111").text(yl);
}
hodo(hodoXZCore,hodoXZ,{x0:554.5,x1:770.5,y0:122,y1:320.5},[-6,6],[-6,-4,-2,0,2,4,6],[-10,-8,-6,-4,-2,0,2,4,6,8],"Bx","Bz",[663,362],[519,224],13.5,12,7);
hodo(hodoYZCore,hodoYZ,{x0:549.5,x1:773.5,y0:378.5,y1:576},[-10,6],[-10,-8,-6,-4,-2,0,2,4,6],[-10,-8,-6,-4,-2,0,2,4,6,8],"By","Bz",[648,614],[522,481],12.5,11,6);
svg.append("text").attr("x",659).attr("y",115).attr("text-anchor","middle").attr("font-family",sans).attr("font-size",16).attr("fill","#111").text("25 Aug.2007, 00:00 – 12:30");

const cap=svg.append("g").attr("font-family",serif).attr("font-size",29.2).attr("fill","#000").attr("text-anchor","middle");
const l1=cap.append("text").attr("x",406).attr("y",717);
l1.append("tspan").attr("font-weight","bold").text("Figure 8.");
l1.append("tspan").text(" ACE observations during the event shown in figure 5.");
[["Left panel: energetic particle fluxes and the IMF components.",750],
 ["Right panel: a hodogram of magnetic field rotation in the area",784],
 ["between the HCS and the CIR (similar to figure 6 and figure 7,",818],
 ["right panel).",852]].forEach(([s,y])=>cap.append("text").attr("x",406).attr("y",y).text(s));
</script></body></html>
